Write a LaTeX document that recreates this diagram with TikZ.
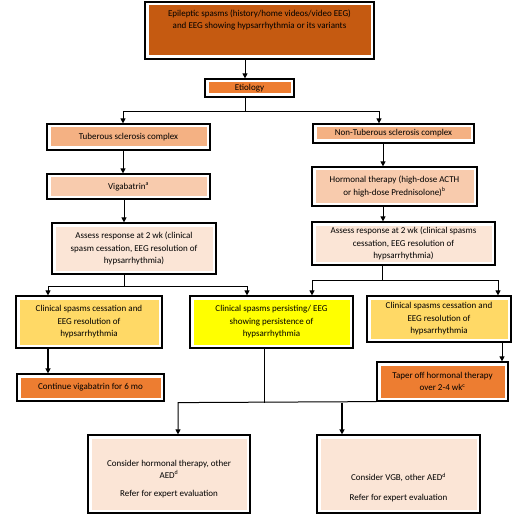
\documentclass[tikz,border=0pt]{standalone}
\usepackage{fontspec}
\setmainfont{Carlito}
\usetikzlibrary{arrows.meta}
\definecolor{fill_rust}{RGB}{197,90,17}
\definecolor{fill_orange}{RGB}{237,125,49}
\definecolor{fill_salmon}{RGB}{244,177,131}
\definecolor{fill_peach}{RGB}{248,203,173}
\definecolor{fill_cream}{RGB}{251,229,214}
\definecolor{fill_gold}{RGB}{255,217,102}
\definecolor{fill_yellow}{RGB}{255,255,0}

\begin{document}
\begin{tikzpicture}[x=1pt,y=-1pt,line width=1pt,>={Triangle[length=5pt,width=5pt]}]
    \tikzstyle{box}=[draw=black, line width=1.2pt, fill=white, align=center, inner sep=0pt,
      font=\fontsize{9}{12.5}\selectfont,
      path picture={\fill[#1] ([shift={(3.5pt,-3.5pt)}]path picture bounding box.north west)
        rectangle ([shift={(-3.5pt,3.5pt)}]path picture bounding box.south east);}]
    \tikzset{sz/.style 2 args={minimum width=#1pt, minimum height=#2pt}}
    \tikzstyle{heavy}=[line width=2pt]

    \useasboundingbox (0,0) rectangle (526,521);

    \node[box=fill_rust, sz={229}{57}] (top) at (259.5,30.5)
      {\parbox[c][50pt][t]{222pt}{\centering\vspace*{4pt}Epileptic spasms (history/home videos/video EEG)\\and EEG showing hypsarrhythmia or its variants}};
    \node[box=fill_orange, sz={89}{18}] (etio) at (249.5,88) {Etiology};

    \node[box=fill_salmon, sz={163}{26}] (tsc) at (128.5,137) {Tuberous sclerosis complex};
    \node[box=fill_salmon, sz={161}{19}] (ntsc) at (393.5,133.5) {Non-Tuberous sclerosis complex};
    \node[box=fill_peach, sz={163}{25}] (vgb) at (128.5,186.5) {Vigabatrin\textsuperscript{a}};
    \node[box=fill_peach, sz={165}{39}] (horm) at (394.5,186.5)
      {Hormonal therapy (high-dose ACTH\\or high-dose Prednisolone)\textsuperscript{b}};

    \node[box=fill_cream, sz={164}{51}] (assL) at (134,248.5)
      {Assess response at 2 wk (clinical\\spasm cessation, EEG resolution of\\hypsarrhythmia)};
    \node[box=fill_cream, sz={183}{43}] (assR) at (403.5,243.5)
      {Assess response at 2 wk (clinical spasms\\cessation, EEG resolution of\\hypsarrhythmia)};

    \node[box=fill_gold, sz={146}{52}] (cesL) at (89,322)
      {Clinical spasms cessation and\\EEG resolution of\\hypsarrhythmia};
    \node[box=fill_yellow, sz={163}{52}] (pers) at (271.5,322)
      {Clinical spasms persisting/ EEG\\showing persistence of\\hypsarrhythmia};
    \node[box=fill_gold, sz={144}{46}] (cesR) at (439,319)
      {Clinical spasms cessation and\\EEG resolution of\\hypsarrhythmia};

    \node[box=fill_orange, sz={147}{27}] (cont) at (90.5,387.5) {Continue vigabatrin for 6 mo};
    \node[box=fill_orange, sz={131}{39}] (taper) at (442.5,381.5)
      {Taper off hormonal therapy\\over 2-4 wk\textsuperscript{c}};

    \node[box=fill_cream, sz={162}{78}] (botL) at (169,474)
      {\parbox[c][78pt][t]{150pt}{\centering\vspace*{25pt}Consider hormonal therapy, other\\AED\textsuperscript{d}\\[5pt]Refer for expert evaluation}};
    \node[box=fill_cream, sz={163}{78}] (botR) at (398.5,474)
      {\parbox[c][78pt][t]{150pt}{\centering\vspace*{38pt}Consider VGB, other AED\textsuperscript{d}\\[7.5pt]Refer for expert evaluation}};

    % top part
    \draw[->] ([xshift=-14.5pt]top.south) -- ([xshift=-4.5pt]etio.north);
    \path ([xshift=-4pt]etio.south) ++(0,14) coordinate (etiosplit);
    \draw ([xshift=-4pt]etio.south) -- (etiosplit);
    \draw[->] (etiosplit) -| ([xshift=-5.5pt]tsc.north);
    \draw[->] (etiosplit) -| ([xshift=-14.5pt]ntsc.north);

    \draw[->] ([xshift=-5.5pt]tsc.south) -- ([xshift=-5.5pt]vgb.north);
    \draw[->] ([xshift=-4.5pt]vgb.south) -- ([xshift=-10pt]assL.north);
    \draw[->] ([xshift=-10.5pt]ntsc.south) -- ([xshift=-11.5pt]horm.north);
    \draw[->] ([xshift=-11.5pt]horm.south) -- ([xshift=-20.5pt]assR.north);

    % response splits
    \path ([xshift=-10pt]assL.south) ++(0,12) coordinate (lsplit);
    \draw ([xshift=-10pt]assL.south) -- (lsplit);
    \draw[->] (lsplit) -| ([xshift=-41pt]cesL.north);
    \draw[->] (lsplit) -| ([xshift=-24.5pt]pers.north);
    \path ([xshift=-21.5pt]assR.south) ++(0,15) coordinate (rsplit);
    \draw ([xshift=-21.5pt]assR.south) -- (rsplit);
    \draw[->] (rsplit) -| ([xshift=40.5pt]pers.north);
    \draw[->] (rsplit) -| ([xshift=59pt]cesR.north);

    \draw[->, heavy] ([xshift=-41pt]cesL.south) -- ([xshift=-42.5pt]cont.north);
    \draw[->] ([xshift=63pt]cesR.south) -- ([xshift=59.5pt]taper.north);

    % bottom part
    \path ([xshift=-7.5pt]pers.south) ++(0,54) coordinate (bsplit);
    \draw ([xshift=-7.5pt]pers.south) -- (bsplit);
    \draw[->] (taper.south west) -- ([xshift=9pt]bsplit -| botL.north) -- ([xshift=9pt]botL.north);
    \draw[->, heavy] ([xshift=-56.5pt]bsplit -| botR.north) -- ([xshift=-56.5pt]botR.north);
\end{tikzpicture}
\end{document}
